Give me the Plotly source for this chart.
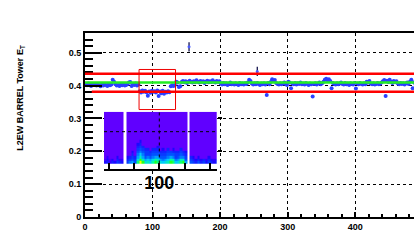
import plotly.graph_objects as go

# ---------------- data ----------------
run_index = list(range(1, 490, 2))  # run index (x)

tower_et = [
    # x 1-79
    0.404, 0.401, 0.406, 0.403, 0.399, 0.405, 0.402, 0.404, 0.400, 0.403,
    0.401, 0.398, 0.403, 0.400, 0.404, 0.402, 0.399, 0.405, 0.401, 0.403,
    0.418, 0.412, 0.404, 0.400, 0.402, 0.399, 0.403, 0.401, 0.404, 0.400,
    0.402, 0.405, 0.409, 0.411, 0.399, 0.404, 0.402, 0.406, 0.400, 0.403,
    # x 81-125 (dip)
    0.383, 0.379, 0.385, 0.381, 0.384, 0.380, 0.369, 0.382, 0.378, 0.384,
    0.381, 0.383, 0.379, 0.385, 0.368, 0.382, 0.377, 0.384, 0.375, 0.381,
    0.379, 0.383, 0.380,
    # x 127-133
    0.398, 0.401, 0.399, 0.402,
    # x 135-199
    0.412, 0.409, 0.396, 0.398, 0.411, 0.414, 0.410, 0.413, 0.408, 0.412,
    0.415, 0.411, 0.409, 0.413, 0.410, 0.416, 0.412, 0.409, 0.414, 0.411,
    0.413, 0.408, 0.412, 0.415, 0.410, 0.413, 0.411, 0.416, 0.412, 0.409,
    0.414, 0.411, 0.413,
    # x 201-299
    0.406, 0.403, 0.408, 0.404, 0.407, 0.402, 0.405, 0.409, 0.404, 0.406,
    0.403, 0.407, 0.405, 0.402, 0.408, 0.404, 0.406, 0.403, 0.407, 0.405,
    0.409, 0.418, 0.414, 0.406, 0.403, 0.407, 0.404, 0.408, 0.405, 0.402,
    0.406, 0.404, 0.407, 0.403, 0.371, 0.408, 0.404, 0.411, 0.419, 0.415,
    0.417, 0.408, 0.405, 0.403, 0.407, 0.404, 0.406, 0.409, 0.405, 0.402,
    # x 301-399
    0.412, 0.409, 0.392, 0.406, 0.404, 0.408, 0.403, 0.407, 0.405, 0.409,
    0.404, 0.406, 0.403, 0.408, 0.405, 0.402, 0.406, 0.404, 0.367, 0.405,
    0.407, 0.403, 0.406, 0.409, 0.404, 0.407, 0.412, 0.418, 0.421, 0.416,
    0.419, 0.414, 0.392, 0.408, 0.405, 0.403, 0.407, 0.404, 0.406, 0.409,
    0.405, 0.403, 0.408, 0.404, 0.406, 0.402, 0.407, 0.405, 0.403, 0.408,
    # x 401-489
    0.391, 0.406, 0.404, 0.408, 0.405, 0.403, 0.407, 0.404, 0.412, 0.409,
    0.414, 0.406, 0.404, 0.407, 0.403, 0.405, 0.408, 0.404, 0.406, 0.409,
    0.413, 0.417, 0.368, 0.415, 0.411, 0.418, 0.412, 0.408, 0.414, 0.410,
    0.413, 0.406, 0.404, 0.408, 0.405, 0.407, 0.403, 0.406, 0.409, 0.405,
    0.412, 0.418, 0.392, 0.410, 0.406,
]

outlier_run = [154, 255]
outlier_et = [0.518, 0.443]
outlier_err = [0.014, 0.014]

upper_limit = 0.436
lower_limit = 0.381
mean_level = 0.409
lower_limit_start = 10
zoom_box_x = [80, 134]
zoom_box_y = [0.327, 0.449]

# inset 2D histogram (columns = run index bins, rows = E_T bins)
inset_x_edges = list(range(56, 148, 2))
inset_y_edges = [0, 1, 2, 3, 4, 5, 6, 7, 8, 9, 20]
N = None
inset_rows = [
    [2.5, 3, 2, 3, 2.5, 3.5, 3, 2.5, N, 3.5, 4.5, 5, 4, 7.5, 10, 8.5, 6, 6.5, 5.5, 7, 8.5, 7.5, 6, 5.5, 6, 6.5, 8.5, 7.5, 5.5, 6, 7.5, 8.5, 5, N, 4, 3.5, 3, 4, 3, 3.5, 2.5, 3.5, 3, 2.5, 3],
    [1.5, 2.5, 1.5, 2.5, 1, 3, 2, 2, N, 3, 3.5, 4, 3.5, 6, 8.5, 6.5, 5, 5.5, 5, 6, 7, 6.5, 5, 4.5, 5, 5.5, 7, 6.5, 4.5, 5, 6.5, 6.5, 4, N, 3.5, 3, 2.5, 3, 2.5, 3, 2, 3, 2.5, 2, 2.5],
    [1, 2, 1, 1, 1, 2.5, 1, 1, N, 2.5, 3, 3.5, 3, 5, 6.5, 5, 4, 4.5, 4, 4.5, 5, 5, 4, 4, 4, 4.5, 5, 4.5, 3.5, 4, 4.5, 4.5, 3.5, N, 3, 2.5, 1, 2.5, 1, 1, 1, 2.5, 1, 1, 1],
    [1, 1, 1, 1, 1, 1, 1, 1, N, 1, 1, 3, 1, 4.5, 5.5, 4.5, 3.5, 3.5, 3.5, 4, 4, 4, 3.5, 3.5, 3.5, 4, 4, 4, 3.5, 3.5, 4, 3.5, 3, N, 1, 1, 1, 1, 1, 1, 1, 1, 1, 1, 1],
    [1, 1, 1, 1, 1, 1, 1, 1, N, 1, 1, 2.5, 1, 4, 4.5, 4, 3.5, 3.5, 3, 3.5, 3.5, 3.5, 3, 3, 3, 3.5, 3.5, 3, 3, 3, 3.5, 3, 2.5, N, 1, 1, 1, 1, 1, 1, 1, 1, 1, 1, 1],
    [1, 1, 1, 1, 1, 1, 1, 1, N, 1, 1, 1, 1, 3.5, 4, 3.5, 3, 3, 1, 3, 3, 3, 1, 2.5, 1, 3, 1, 2.5, 1, 1, 3, 1, 1, N, 1, 1, 1, 1, 1, 1, 1, 1, 1, 1, 1],
    [1, 1, 1, 1, 1, 1, 1, 1, N, 1, 1, 1, 1, 3, 3.5, 3, 1, 1, 1, 1, 1, 2.5, 1, 1, 1, 1, 1, 1, 1, 1, 1, 1, 1, N, 1, 1, 1, 1, 1, 1, 1, 1, 1, 1, 1],
    [1, 1, 1, 1, 1, 1, 1, 1, N, 1, 1, 1, 1, 2.5, 3, 1, 1, 1, 1, 1, 1, 1, 1, 1, 1, 1, 1, 1, 1, 1, 1, 1, 1, N, 1, 1, 1, 1, 1, 1, 1, 1, 1, 1, 1],
    [1, 1, 1, 1, 1, 1, 1, 1, N, 1, 1, 1, 1, 1, 2.5, 1, 1, 1, 1, 1, 1, 1, 1, 1, 1, 1, 1, 1, 1, 1, 1, 1, 1, N, 1, 1, 1, 1, 1, 1, 1, 1, 1, 1, 1],
    [1, 1, 1, 1, 1, 1, 1, 1, N, 1, 1, 1, 1, 1, 1, 1, 1, 1, 1, 1, 1, 1, 1, 1, 1, 1, 1, 1, 1, 1, 1, 1, 1, N, 1, 1, 1, 1, 1, 1, 1, 1, 1, 1, 1],
]
inset_tick_major = [100]
inset_tick_labels = ["100"]
inset_tick_minor = [60, 80, 120, 140]
inset_grid_x = 100
inset_grid_y = 12.3
inset_side_ticks = [4.8, 17.6]

# ---------------- figure ----------------
FONT = "Liberation Sans"
fig = go.Figure()

fig.add_trace(go.Scatter(
    x=run_index, y=tower_et, mode="markers",
    marker=dict(color="#2b3fff", size=4, line=dict(width=0)),
    xaxis="x", yaxis="y", showlegend=False,
))
fig.add_trace(go.Scatter(
    x=outlier_run, y=outlier_et, mode="markers",
    marker=dict(color="#4a5cff", size=3),
    error_y=dict(type="data", array=outlier_err, color="#000040", thickness=1.2, width=0),
    xaxis="x", yaxis="y", showlegend=False,
))

fig.add_trace(go.Heatmap(
    x=inset_x_edges, y=inset_y_edges, z=inset_rows,
    zmin=1, zmax=10, showscale=False,
    colorscale=[[0, "#6000ff"], [0.15, "#2000ff"], [0.33, "#0050ff"], [0.5, "#00c8ff"],
                [0.67, "#00ffa0"], [0.83, "#20ff20"], [1, "#f0ff00"]],
    xaxis="x2", yaxis="y2",
))

shapes = [
    dict(type="line", xref="x domain", yref="y", x0=0, x1=1, y0=upper_limit, y1=upper_limit,
         line=dict(color="#ff0000", width=2.5)),
    dict(type="line", xref="x", yref="y", x0=lower_limit_start, x1=487, y0=lower_limit, y1=lower_limit,
         line=dict(color="#ff0000", width=2.5)),
    dict(type="line", xref="x domain", yref="y", x0=0, x1=1, y0=mean_level, y1=mean_level,
         line=dict(color="#22ee22", width=2.5)),
    dict(type="rect", xref="x", yref="y", x0=zoom_box_x[0], x1=zoom_box_x[1],
         y0=zoom_box_y[0], y1=zoom_box_y[1], line=dict(color="#ee0000", width=1)),
    dict(type="line", xref="x2", yref="y2", x0=inset_grid_x, x1=inset_grid_x,
         y0=inset_y_edges[0], y1=inset_y_edges[-1], line=dict(color="black", width=1, dash="dot")),
    dict(type="line", xref="x2 domain", yref="y2", x0=0, x1=1, y0=inset_grid_y, y1=inset_grid_y,
         line=dict(color="black", width=1, dash="dot")),
]

fig.update_layout(
    width=414, height=241,
    margin=dict(l=85, r=0, t=33, b=24),
    paper_bgcolor="white", plot_bgcolor="white",
    font=dict(family=FONT, color="black"),
    shapes=shapes,
    xaxis=dict(
        domain=[0, 1], range=[0, 487], anchor="y",
        showline=True, linecolor="black", linewidth=2, mirror=True,
        ticks="inside", ticklen=5, tickwidth=1.5, tickcolor="black",
        dtick=100, tick0=0,
        minor=dict(dtick=20, ticks="inside", ticklen=3, tickwidth=1.5, tickcolor="black", showgrid=False),
        showgrid=True, gridcolor="black", gridwidth=1, griddash="3px,3px",
        zeroline=False,
        tickfont=dict(family=FONT, size=9, weight="bold"),
    ),
    yaxis=dict(
        domain=[0, 1], range=[0, 0.56], anchor="x",
        showline=True, linecolor="black", linewidth=2,
        ticks="inside", ticklen=17, tickwidth=2, tickcolor="black",
        dtick=0.1, tick0=0,
        minor=dict(dtick=0.02, ticks="inside", ticklen=8, tickwidth=2, tickcolor="black", showgrid=False),
        showgrid=True, gridcolor="black", gridwidth=1, griddash="3px,3px",
        zeroline=False,
        tickfont=dict(family=FONT, size=9, weight="bold"),
    ),
    xaxis2=dict(
        domain=[0.0578, 0.4003], range=[56.45, 145.2], anchor="y2",
        showline=True, linecolor="black", linewidth=2,
        ticks="inside", ticklen=6, tickwidth=1.5, tickcolor="black",
        tickvals=inset_tick_major, ticktext=inset_tick_labels,
        ticklabelstandoff=-4,
        minor=dict(tickvals=inset_tick_minor, ticks="inside", ticklen=6, tickwidth=1.5,
                   tickcolor="black", showgrid=False),
        showgrid=False, zeroline=False,
        tickfont=dict(family=FONT, size=18, weight="bold"),
    ),
    yaxis2=dict(
        domain=[0.261, 0.572], range=[-2.12, 20], anchor="x2", side="right",
        showline=False, ticks="outside", ticklen=4, tickwidth=1.5, tickcolor="black",
        tickvals=inset_side_ticks, showticklabels=False,
        showgrid=False, zeroline=False,
    ),
    annotations=[dict(
        text="L2EW BARREL Tower E<sub>T</sub>", textangle=-90,
        xref="paper", yref="paper", x=-0.195, y=0.647,
        xanchor="center", yanchor="middle", showarrow=False,
        font=dict(family=FONT, size=9, weight="bold", color="black"),
    )],
)

fig.write_html("out.html")
